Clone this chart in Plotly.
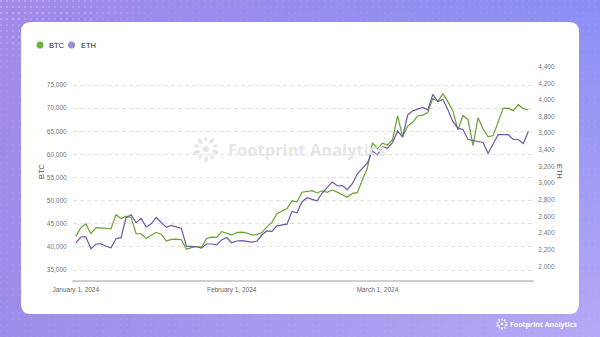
import numpy as np
import pandas as pd
import plotly.graph_objects as go
import zlib, struct, base64, math

# ---------------- data ----------------
dates = pd.date_range("2024-01-01", "2024-03-31", freq="D")

btc = [42265, 44167, 44958, 42848, 44179, 44162, 43989, 43943, 46970, 46139,
       46627, 46368, 42853, 42842, 41796, 42512, 43154, 42742, 41262, 41618,
       41665, 41545, 39507, 39845, 40077, 39934, 41816, 42120, 42035, 43288,
       42952, 42582, 43075, 43185, 42993, 42584, 42659, 43084, 44318, 45302,
       47147, 47771, 48294, 49958, 49742, 51826, 51938, 52160, 51663, 52122,
       51779, 52284, 51839, 51304, 50731, 51571, 51734, 54522, 57085, 62504,
       61198, 62440, 62029, 63168, 68330, 63801, 66106, 66925, 68300, 68498,
       69020, 72123, 71481, 73083, 71397, 69403, 65316, 68390, 67548, 61912,
       67913, 65491, 63778, 64062, 67234, 69958, 69987, 69455, 70744, 69892,
       69645]

eth = [2281, 2352, 2355, 2210, 2268, 2269, 2240, 2222, 2331, 2344,
       2584, 2619, 2525, 2576, 2472, 2511, 2587, 2529, 2468, 2492,
       2470, 2455, 2243, 2242, 2235, 2218, 2268, 2268, 2257, 2317,
       2345, 2283, 2304, 2309, 2297, 2290, 2301, 2376, 2425, 2419,
       2486, 2500, 2506, 2660, 2643, 2776, 2825, 2804, 2787, 2881,
       2945, 3014, 2968, 2971, 2921, 2993, 3112, 3179, 3243, 3385,
       3340, 3434, 3420, 3487, 3627, 3553, 3818, 3868, 3892, 3910,
       3880, 4066, 3980, 4005, 3882, 3739, 3660, 3644, 3524, 3512,
       3500, 3488, 3356, 3476, 3584, 3584, 3584, 3524, 3524, 3476,
       3620]

x_tick_vals = ["2024-01-01", "2024-02-01", "2024-03-01"]
x_tick_text = ["January 1, 2024", "February 1, 2024", "March 1, 2024"]
btc_ticks = [35000, 40000, 45000, 50000, 55000, 60000, 65000, 70000, 75000]
eth_ticks = [2000, 2200, 2400, 2600, 2800, 3000, 3200, 3400, 3600, 3800, 4000, 4200, 4400]

# ---------------- geometry helpers ----------------
W, H = 600, 337
def PX(x): return x / W
def PY(y): return 1 - y / H

# ---------------- background gradient png ----------------
yy, xx = np.mgrid[0:H, 0:W].astype(float)
u = xx / (W - 1); v = yy / (H - 1)
TL = np.array([163, 138, 232.]); TR = np.array([138, 143, 245.])
BL = np.array([158, 140, 234.]); BR = np.array([182, 168, 246.])
img = (TL * ((1 - u) * (1 - v))[..., None] + TR * (u * (1 - v))[..., None]
       + BL * ((1 - u) * v)[..., None] + BR * (u * v)[..., None])
dot = ((xx % 6) < 2) & ((yy % 6) < 2)
s_tl = np.clip(1 - np.sqrt((xx / 160) ** 2 + (yy / 70) ** 2), 0, 1)
a = dot * (0.05 + 0.22 * s_tl)
img = img * (1 - a[..., None]) + 255 * a[..., None]
img = np.clip(img, 0, 255).astype(np.uint8)

def png_uri(arr):
    h, w, _ = arr.shape
    raw = b"".join(b"\x00" + arr[r].tobytes() for r in range(h))
    def chunk(t, d):
        c = struct.pack(">I", len(d)) + t + d
        return c + struct.pack(">I", zlib.crc32(t + d) & 0xffffffff)
    png = b"\x89PNG\r\n\x1a\n" + chunk(b"IHDR", struct.pack(">IIBBBBB", w, h, 8, 2, 0, 0, 0)) \
        + chunk(b"IDAT", zlib.compress(raw, 9)) + chunk(b"IEND", b"")
    return "data:image/png;base64," + base64.b64encode(png).decode()

# ---------------- shapes ----------------
def rrect(x0, y0, x1, y1, r):
    rx, ry = r / W, r / H
    X0, X1, Y0, Y1 = PX(x0), PX(x1), PY(y1), PY(y0)  # Y0 bottom, Y1 top
    return (f"M{X0+rx},{Y1} L{X1-rx},{Y1} Q{X1},{Y1} {X1},{Y1-ry} "
            f"L{X1},{Y0+ry} Q{X1},{Y0} {X1-rx},{Y0} L{X0+rx},{Y0} "
            f"Q{X0},{Y0} {X0},{Y0+ry} L{X0},{Y1-ry} Q{X0},{Y1} {X0+rx},{Y1} Z")

def petal(cx, cy, ang, dist, length, width):
    pts = []
    for k in range(16):
        t = 2 * math.pi * k / 16
        lx = dist + (length / 2) * math.cos(t)
        ly = (width / 2) * math.sin(t)
        X = cx + lx * math.cos(ang) - ly * math.sin(ang)
        Y = cy + lx * math.sin(ang) + ly * math.cos(ang)
        pts.append((PX(X), PY(Y)))
    return "M" + " L".join(f"{p[0]},{p[1]}" for p in pts) + " Z"

def logo(cx, cy, scale, color):
    out = []
    sizes = [1.0, 0.75, 0.9, 0.7, 1.0, 0.8, 0.95, 0.7, 0.85, 0.75]
    for i in range(10):
        ang = 2 * math.pi * i / 10 + 0.3
        out.append(dict(type="path", xref="paper", yref="paper", layer="below",
                        path=petal(cx, cy, ang, 10 * scale, 7 * scale * sizes[i], 4 * scale * sizes[i]),
                        fillcolor=color, line=dict(width=0)))
    r = 3 * scale
    out.append(dict(type="circle", xref="paper", yref="paper", layer="below",
                    x0=PX(cx - r), x1=PX(cx + r), y0=PY(cy + r), y1=PY(cy - r),
                    fillcolor=color, line=dict(width=0)))
    return out

shapes = [dict(type="path", xref="paper", yref="paper", layer="below",
               path=rrect(21, 22, 579, 314, 10), fillcolor="white", line=dict(width=0))]
shapes += logo(206, 149, 1.0, "#e6e6e6")
shapes += logo(502, 324, 0.45, "white")
# axis end ticks
for xe in (73, 533):
    shapes.append(dict(type="line", xref="paper", yref="paper", x0=PX(xe), x1=PX(xe),
                       y0=PY(280), y1=PY(283), line=dict(color="#c4c4c4", width=1)))
# legend dots
GREEN, PURPLE = "#66a22f", "#6b56a8"
for cx, col in ((40, "#72b13d"), (71.5, "#9f8bd0")):
    shapes.append(dict(type="circle", xref="paper", yref="paper",
                       x0=PX(cx - 3.5), x1=PX(cx + 3.5), y0=PY(45 + 3.5), y1=PY(45 - 3.5),
                       fillcolor=col, line=dict(width=0)))

annotations = [
    dict(text="BTC", x=PX(47), y=PY(45.5), xref="paper", yref="paper", xanchor="left", yanchor="middle",
         showarrow=False, font=dict(family="Liberation Sans", size=7.5, color="#222")),
    dict(text="ETH", x=PX(79), y=PY(45.5), xref="paper", yref="paper", xanchor="left", yanchor="middle",
         showarrow=False, font=dict(family="Liberation Sans", size=7.5, color="#222")),
    dict(text="BTC", x=PX(41), y=PY(171), xref="paper", yref="paper", xanchor="center", yanchor="middle",
         textangle=-90, showarrow=False, font=dict(family="Liberation Sans", size=7.5, color="#555")),
    dict(text="ETH", x=PX(560), y=PY(171), xref="paper", yref="paper", xanchor="center", yanchor="middle",
         textangle=90, showarrow=False, font=dict(family="Liberation Sans", size=7.5, color="#555")),
    dict(text="<b>Footprint Analytics</b>", x=PX(226), y=PY(149), xref="paper", yref="paper",
         xanchor="left", yanchor="middle", showarrow=False,
         font=dict(family="Open Sans", size=16.5, color="#e6e6e6")),
    dict(text="<b>Footprint Analytics</b>", x=PX(508), y=PY(324), xref="paper", yref="paper",
         xanchor="left", yanchor="middle", showarrow=False,
         font=dict(family="Open Sans", size=7, color="white")),
]

fig = go.Figure()
fig.add_trace(go.Scatter(x=dates, y=btc, name="BTC", mode="lines",
                         line=dict(color=GREEN, width=1.2), yaxis="y"))
fig.add_trace(go.Scatter(x=dates, y=eth, name="ETH", mode="lines",
                         line=dict(color=PURPLE, width=1.2), yaxis="y2"))

tickfont = dict(family="Liberation Sans", size=6.5, color="#777")
fig.update_layout(
    width=W, height=H, margin=dict(l=0, r=0, t=0, b=0, autoexpand=False),
    paper_bgcolor="rgba(0,0,0,0)", plot_bgcolor="rgba(0,0,0,0)",
    showlegend=False,
    images=[dict(source=png_uri(img), xref="paper", yref="paper", x=0, y=1,
                 sizex=1, sizey=1, sizing="stretch", xanchor="left", yanchor="top", layer="below")],
    shapes=shapes, annotations=annotations,
    xaxis=dict(type="date", domain=[PX(73), PX(533)], automargin=False,
               range=["2023-12-31 10:38", "2024-03-31 22:19"],
               tickvals=x_tick_vals, ticktext=x_tick_text, tickfont=dict(family="Liberation Sans", size=6.5, color="#666"),
               showgrid=False, zeroline=False, showline=True, linecolor="#cfcfcf", linewidth=1.5,
               ticks="outside", ticklen=2, tickcolor="rgba(0,0,0,0)", fixedrange=True),
    yaxis=dict(domain=[PY(280), PY(60)], range=[32838, 80405], tickvals=btc_ticks, automargin=False,
               tickformat=",", tickfont=tickfont, showgrid=True, gridcolor="#e3e3e3",
               griddash="4px,3px", gridwidth=1, zeroline=False, showline=False,
               ticks="outside", ticklen=4, tickcolor="rgba(0,0,0,0)"),
    yaxis2=dict(overlaying="y", side="right", anchor="x", range=[1835, 4480], tickvals=eth_ticks,
                automargin=False,
                tickformat=",", tickfont=tickfont, showgrid=False, zeroline=False, showline=False,
                ticks="outside", ticklen=3, tickcolor="rgba(0,0,0,0)"),
)
fig.write_html("out.html")
